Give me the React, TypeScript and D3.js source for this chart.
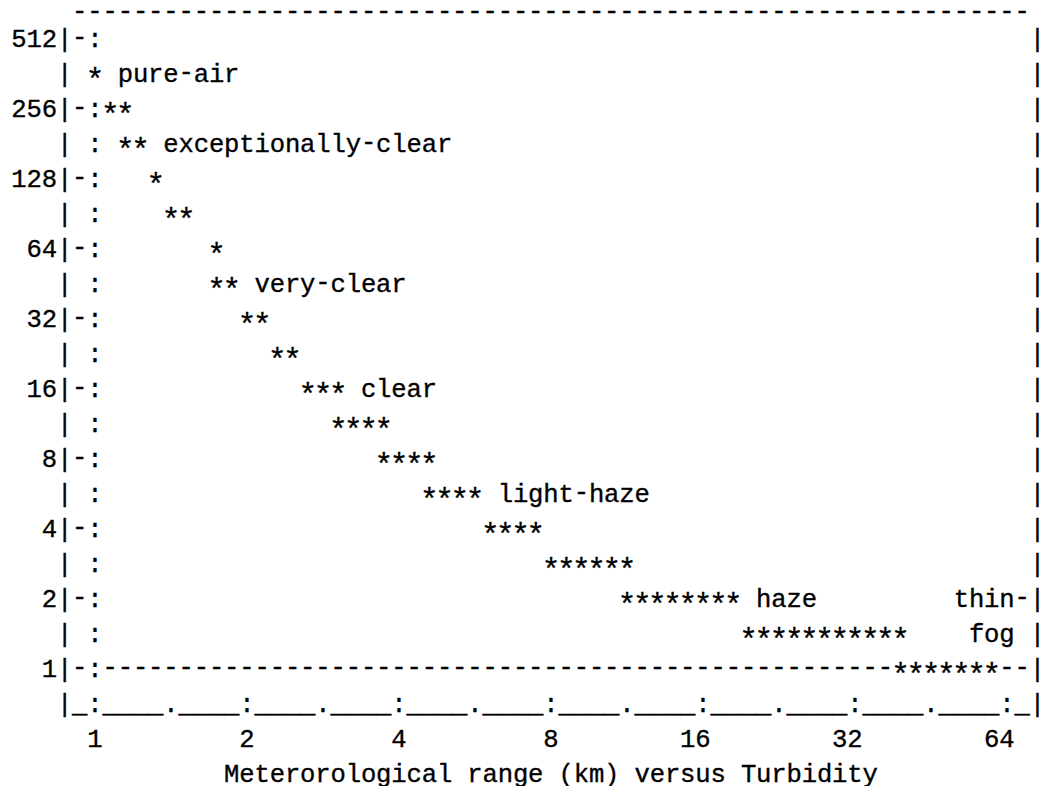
import * as d3 from 'd3'

// axis ticks
const yTicks = [512, 256, 128, 64, 32, 16, 8, 4, 2, 1]
const xTicks = [1, 2, 4, 8, 16, 32, 64]
const xMinorTicks = [1.41, 2.83, 5.66, 11.3, 22.6, 45.3]

// one run of asterisks per half-octave row: range (km) and the turbidity span it covers
const rangeKm = [362, 256, 181, 128, 90.5, 64, 45, 32, 22.6, 16, 11.3, 8, 5.66, 4, 2.83, 2, 1.41, 1]
const turbidityFrom = [1.0, 1.07, 1.15, 1.32, 1.41, 1.74, 1.74, 2.0, 2.3, 2.64, 3.03, 3.73, 4.59, 6.06, 8.0, 11.3, 19.7, 39.4]
const turbidityTo = [1.0, 1.15, 1.23, 1.32, 1.52, 1.74, 1.87, 2.14, 2.46, 3.03, 3.73, 4.59, 5.66, 7.46, 11.3, 18.4, 39.4, 59.7]

// named zones, written after the run they belong to
const zoneNames = ['pure-air', 'exceptionally-clear', 'very-clear', 'clear', 'light-haze', 'haze']
const zoneRun = [0, 2, 6, 9, 12, 15]
const fogLines = ['thin-', 'fog']
const fogRange = [2, 1.41]
const fogTurbidity = 59.7

const title = 'Meterorological range (km) versus Turbidity'

const W = 1042
const H = 786
const CHAR_W = 15.2
const LINE_H = 35
const FONT = '"Liberation Mono", "DejaVu Sans Mono", monospace'

function buildGrid() {
  const col = d3.scaleLog().base(2).domain([1, 64]).range([5, 65])
  const row = d3.scaleLog().base(2).domain([512, 1]).range([1, 19])
  const c = (v: number) => Math.round(col(v))
  const r = (v: number) => Math.round(row(v))

  const left = c(1) - 2
  const right = c(64) + 2
  const top = r(512) - 1
  const baseRow = r(1)
  const axisRow = baseRow + 1
  const nRows = axisRow + 3
  const nCols = right + 1

  const grid: string[][] = Array.from({ length: nRows }, () => Array(nCols).fill(' '))
  const put = (ri: number, ci: number, s: string) => {
    for (let i = 0; i < s.length; i++) grid[ri][ci + i] = s[i]
  }

  for (let ci = left + 1; ci < right; ci++) grid[top][ci] = '-'
  for (let ri = top + 1; ri <= axisRow; ri++) {
    grid[ri][left] = '|'
    grid[ri][right] = '|'
    grid[ri][left + 2] = ':'
  }
  yTicks.forEach(v => {
    const s = String(v)
    put(r(v), left - s.length, s)
    grid[r(v)][left + 1] = '-'
  })
  for (let ci = left + 3; ci < right; ci++) grid[baseRow][ci] = '-'
  for (let ci = left + 1; ci < right; ci++) if (grid[axisRow][ci] === ' ') grid[axisRow][ci] = '_'
  xTicks.forEach(v => { grid[axisRow][c(v)] = ':' })
  xMinorTicks.forEach(v => { grid[axisRow][c(v)] = '.' })

  rangeKm.forEach((km, i) => {
    for (let ci = c(turbidityFrom[i]); ci <= c(turbidityTo[i]); ci++) grid[r(km)][ci] = '*'
  })
  zoneNames.forEach((name, i) => {
    const k = zoneRun[i]
    put(r(rangeKm[k]), c(turbidityTo[k]) + 2, name)
  })
  fogLines.forEach((s, j) => {
    put(r(fogRange[j]), c(fogTurbidity) - Math.floor(s.length / 2), s)
  })

  xTicks.forEach(v => {
    const s = String(v)
    put(axisRow + 1, c(v) - s.length + 1, s)
  })
  put(axisRow + 2, Math.round((col(1) + col(64)) / 2) - Math.floor(title.length / 2), title)

  return grid
}

// small vertical nudge so the dashes sit where the typewriter face puts them
const lift: Record<string, number> = { '-': -2 }

export default function App() {
  const grid = buildGrid()
  const px = d3.scaleLinear().domain([0, 1]).range([19, 19 + CHAR_W])
  const py = d3.scaleLinear().domain([1, 2]).range([47, 47 + LINE_H])
  const baseline = (ri: number) => (ri === 0 ? 21 : py(ri))

  return (
    <svg
      width={W}
      height={H}
      viewBox={`0 0 ${W} ${H}`}
      style={{ position: 'absolute', left: 0, top: 0, background: '#fff' }}
    >
      <g fontFamily={FONT} fill="#000" stroke="#000" strokeWidth={0.35} textAnchor="middle">
        {grid.map((chars, ri) => {
          const cells = chars.map((ch, ci) => ({ ch, ci }))
          const glyphs = cells.filter(d => d.ch !== ' ' && d.ch !== '*')
          const stars = cells.filter(d => d.ch === '*')
          return (
            <g key={ri}>
              {glyphs.length > 0 && (
                <text
                  fontSize={25.6}
                  x={glyphs.map(d => px(d.ci).toFixed(1)).join(' ')}
                  y={glyphs.map(d => (baseline(ri) + (lift[d.ch] || 0)).toFixed(1)).join(' ')}
                >
                  {glyphs.map(d => d.ch).join('')}
                </text>
              )}
              {stars.length > 0 && (
                <text
                  fontSize={31}
                  x={stars.map(d => px(d.ci).toFixed(1)).join(' ')}
                  y={stars.map(() => (baseline(ri) + 7.5).toFixed(1)).join(' ')}
                >
                  {stars.map(d => d.ch).join('')}
                </text>
              )}
            </g>
          )
        })}
      </g>
    </svg>
  )
}
